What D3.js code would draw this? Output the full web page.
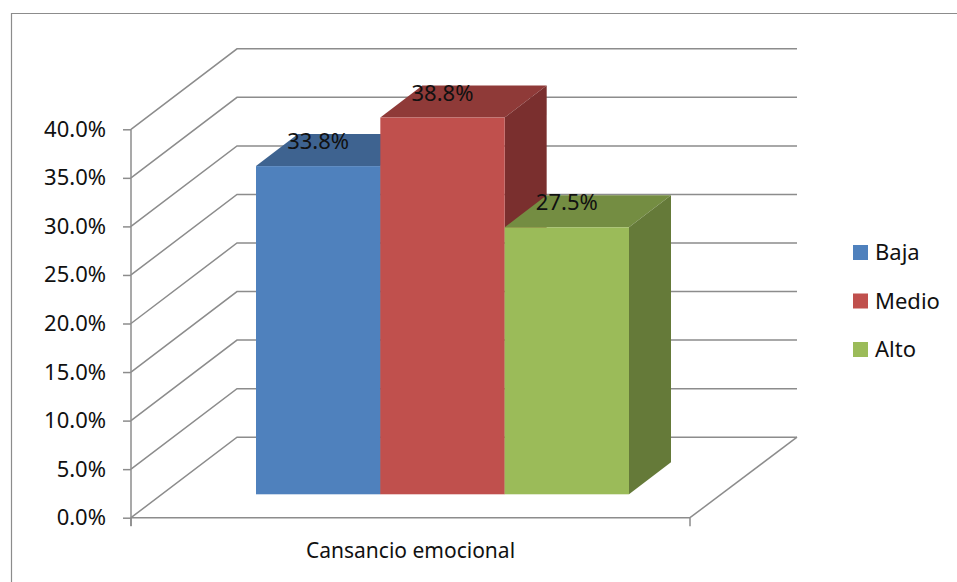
<!DOCTYPE html>
<html>
<head>
<meta charset="utf-8">
<script src="https://cdnjs.cloudflare.com/ajax/libs/d3/7.8.5/d3.min.js"></script>
<style>
  body { margin: 0; background: #fff; }
  text { font-family: "Noto Sans", sans-serif; fill: #111; }
</style>
</head>
<body>
<div id="chart"></div>
<script>
var categories = ["Cansancio emocional"];
var seriesNames = ["Baja", "Medio", "Alto"];
var seriesValues = [33.8, 38.8, 27.5];
var seriesColors = ["#4f81bd", "#c0504d", "#9bbb59"];
var topColors = ["#3e6390", "#8f3a38", "#748d42"];
var sideColors = ["#355478", "#7a2f2e", "#657a39"];
var yTicks = [0, 5, 10, 15, 20, 25, 30, 35, 40];

(function () {
  var width = 957, height = 582;
  var gray = "#8c8c8c";

  var svg = d3.select("#chart").append("svg")
    .attr("width", width)
    .attr("height", height)
    .style("display", "block");

  // frame, only top and left edges are visible in the crop
  svg.append("path")
    .attr("d", "M11.5,582V13.5H957")
    .attr("fill", "none")
    .attr("stroke", gray)
    .attr("stroke-width", 1.2);

  var y = d3.scaleLinear().domain([0, 40]).range([517.7, 129.3]);
  var x = d3.scaleBand().domain(categories).range([131, 690]);
  var barX = d3.scaleBand().domain(seriesNames).range([256, 629]);

  // 3d offsets of the floor and of the bars
  var wallDx = 106, wallDy = 80.5;
  var barDx = 42, barDy = 32;
  var barLift = 23.4;

  var grid = svg.append("g").attr("fill", "none").attr("stroke", gray).attr("stroke-width", 1.5);

  grid.selectAll("path.wall")
    .data(yTicks)
    .enter().append("path")
    .attr("class", "wall")
    .attr("d", function (d) {
      return d3.line()([[131, y(d)], [131 + wallDx, y(d) - wallDy], [131 + wallDx + 560, y(d) - wallDy]]);
    });

  // floor right edge
  grid.append("path")
    .attr("d", d3.line()([[690, y(0)], [690 + wallDx + 1, y(0) - wallDy]]));

  var yAxis = d3.axisLeft(y)
    .tickValues(yTicks)
    .tickSize(8)
    .tickPadding(17)
    .tickFormat(function (d) { return d3.format(".1f")(d) + "%"; });

  var yG = svg.append("g").attr("transform", "translate(131,0)").call(yAxis);
  yG.select(".domain").remove();
  yG.append("line").attr("y1", y(40)).attr("y2", 526).attr("stroke", gray).attr("stroke-width", 1.5);
  yG.selectAll(".tick line").attr("stroke", gray).attr("stroke-width", 1.5);
  yG.selectAll("text").attr("font-size", 22).attr("font-family", null).style("fill", "#111");
  yG.attr("font-family", null);

  var xAxis = d3.axisBottom(x).tickSize(0).tickPadding(25);
  var xG = svg.append("g").attr("transform", "translate(0," + y(0) + ")").call(xAxis);
  xG.select(".domain").attr("stroke", gray).attr("stroke-width", 1.5).attr("d", "M131,0H690M131,0V8.5M690,0V8.5");
  xG.selectAll("text").attr("font-size", 21).style("fill", "#111");
  xG.attr("font-family", null);

  var bars = svg.selectAll("g.bar")
    .data(seriesValues)
    .enter().append("g")
    .attr("class", "bar");

  var barBase = y(0) - barLift;
  function barTop(d) { return y(d) - barLift; }

  bars.append("path")
    .attr("fill", function (d, i) { return topColors[i]; })
    .attr("d", function (d, i) {
      var x0 = barX(seriesNames[i]), x1 = x0 + barX.bandwidth();
      var t = barTop(d);
      return d3.line()([[x0, t], [x1, t], [x1 + barDx, t - barDy], [x0 + barDx, t - barDy]]) + "Z";
    });

  bars.append("path")
    .attr("fill", function (d, i) { return sideColors[i]; })
    .attr("d", function (d, i) {
      var x1 = barX(seriesNames[i]) + barX.bandwidth();
      var t = barTop(d);
      return d3.line()([[x1, t], [x1 + barDx, t - barDy], [x1 + barDx, barBase - barDy], [x1, barBase]]) + "Z";
    });

  bars.append("rect")
    .attr("x", function (d, i) { return barX(seriesNames[i]); })
    .attr("y", function (d) { return barTop(d); })
    .attr("width", barX.bandwidth())
    .attr("height", function (d) { return barBase - barTop(d); })
    .attr("fill", function (d, i) { return seriesColors[i]; });

  // value labels sit over the top faces, so they go last
  svg.selectAll("text.value")
    .data(seriesValues)
    .enter().append("text")
    .attr("class", "value")
    .attr("x", function (d, i) { return barX(seriesNames[i]) + barX.bandwidth() / 2; })
    .attr("y", function (d) { return barTop(d) - 17; })
    .attr("text-anchor", "middle")
    .attr("font-size", 22)
    .text(function (d) { return d3.format(".1f")(d) + "%"; });

  var legendY = d3.scalePoint().domain(seriesNames).range([252.5, 349.5]);

  var legend = svg.selectAll("g.legend")
    .data(seriesNames)
    .enter().append("g")
    .attr("class", "legend")
    .attr("transform", function (d) { return "translate(853," + legendY(d) + ")"; });

  legend.append("rect")
    .attr("y", -7.5)
    .attr("width", 15)
    .attr("height", 15)
    .attr("fill", function (d, i) { return seriesColors[i]; });

  legend.append("text")
    .attr("x", 22)
    .attr("dy", "0.35em")
    .attr("font-size", 22)
    .text(function (d) { return d; });
})();
</script>
</body>
</html>
